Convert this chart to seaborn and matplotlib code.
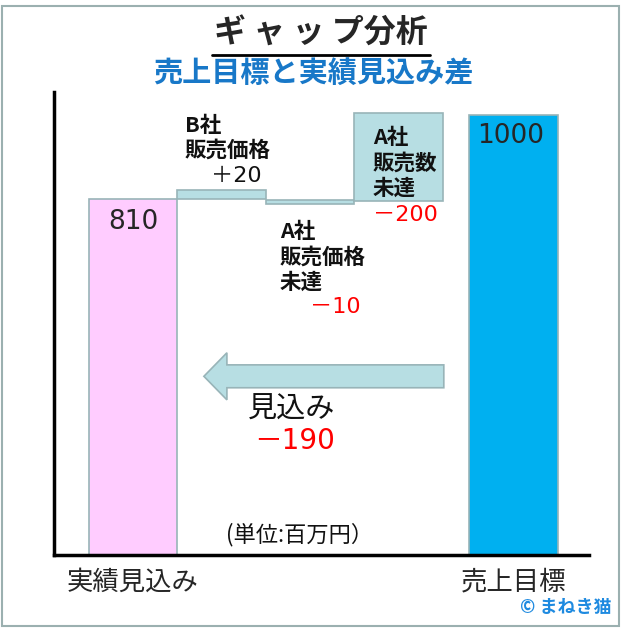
import matplotlib
matplotlib.use("Agg")
import matplotlib.pyplot as plt
import matplotlib.patches as mpatches
import matplotlib.lines as mlines
import seaborn as sns

# waterfall pieces (units: million yen)
categories = ["実績見込み", "B社販売価格", "A社販売価格未達", "A社販売数未達", "売上目標"]
x_pos = [0, 1, 2, 3, 4.3]
bottoms = [0, 810, 797, 805, 0]
heights = [810, 20, 10, 200, 1000]
bar_colors = ["#FFCCFF", "#B7DEE3", "#B7DEE3", "#B7DEE3", "#00B0F0"]
tick_labels = ["実績見込み", "売上目標"]

# arrow: forecast gap (from target back to forecast)
gap_value = -190
arrow_start, arrow_end, arrow_level = 3.51, 0.80, 406

sns.set_theme(style="white")
plt.rcParams["font.family"] = ["Noto Sans CJK JP", "DejaVu Sans"]
num_font = ["DejaVu Sans", "Noto Sans CJK JP"]

W, H = 622, 630
fig = plt.figure(figsize=(W / 100, H / 100), dpi=100)
ax = fig.add_axes([54 / W, 1 - 555 / H, (589 - 54) / W, (555 - 92) / H])

for xp, b, h, c in zip(x_pos, bottoms, heights, bar_colors):
    ax.bar(xp, h, bottom=b, width=1.0, color=c, edgecolor="#98B4B8", linewidth=1.2)

arrow = mpatches.FancyArrow(arrow_start, arrow_level, arrow_end - arrow_start, 0,
                            width=52, head_width=107, head_length=0.26,
                            length_includes_head=True,
                            facecolor="#B7DEE3", edgecolor="#98B4B8", linewidth=1.2)
ax.add_patch(arrow)

ax.set_xlim(-0.893, 5.15)
ax.set_ylim(0, 1052)
ax.set_yticks([])
ax.set_xticks([x_pos[0], x_pos[-1]], tick_labels, fontsize=19)
ax.tick_params(axis="x", length=0, pad=10)
sns.despine(ax=ax)
for s in ["left", "bottom"]:
    ax.spines[s].set_color("black")
    ax.spines[s].set_linewidth(2.5)

# value labels inside total bars
ax.text(x_pos[0], 757, str(heights[0]), ha="center", va="center", fontsize=19, family="DejaVu Sans")
ax.text(x_pos[-1] - 0.04, 952, str(heights[-1]), ha="center", va="center", fontsize=19, family="DejaVu Sans")


def ftext(px, py, s, **kw):
    fig.text(px / W, 1 - py / H, s, **kw)


# titles
ftext(321, 34, "ギ ャ ッ プ分析", ha="center", va="center", fontsize=23, fontweight="bold")
fig.add_artist(mlines.Line2D([212 / W, 430 / W], [1 - 55 / H, 1 - 55 / H], color="black", lw=2))
ftext(313, 73, "売上目標と実績見込み差", ha="center", va="center", fontsize=21,
      fontweight="bold", color="#1878C8")

lab = dict(ha="left", va="center", fontsize=15.5, fontweight="bold", color="#111111")
red = dict(ha="left", va="center", color="#FF0000", family=num_font)
ftext(185, 125, "B社", **lab)
ftext(185, 150, "販売価格", **lab)
ftext(211, 176, "＋20", ha="left", va="center", fontsize=16, color="#111111", family=num_font)

ftext(373, 138, "A社", **lab)
ftext(373, 163, "販売数", **lab)
ftext(373, 188, "未達", **lab)
ftext(373, 215, "－200", fontsize=16, **red)

ftext(280, 232, "A社", **lab)
ftext(280, 257, "販売価格", **lab)
ftext(280, 282, "未達", **lab)
ftext(310, 307, "－10", fontsize=16, **red)

ftext(248, 410, "見込み", ha="left", va="center", fontsize=21, color="#111111")
ftext(254, 441, "－" + str(abs(gap_value)), fontsize=20, **red)

ftext(226, 535, "(単位:百万円）", ha="left", va="center", fontsize=16, color="#111111")
ftext(612, 608, "© まねき猫", ha="right", va="center", fontsize=13, fontweight="bold", color="#1E8AE0")

fig.add_artist(mpatches.Rectangle((2 / W, 1 - 626 / H), 617 / W, 620 / H, transform=fig.transFigure,
                                  fill=False, edgecolor="#9BB0B0", linewidth=1.5))

fig.savefig("out.png", dpi=100)
